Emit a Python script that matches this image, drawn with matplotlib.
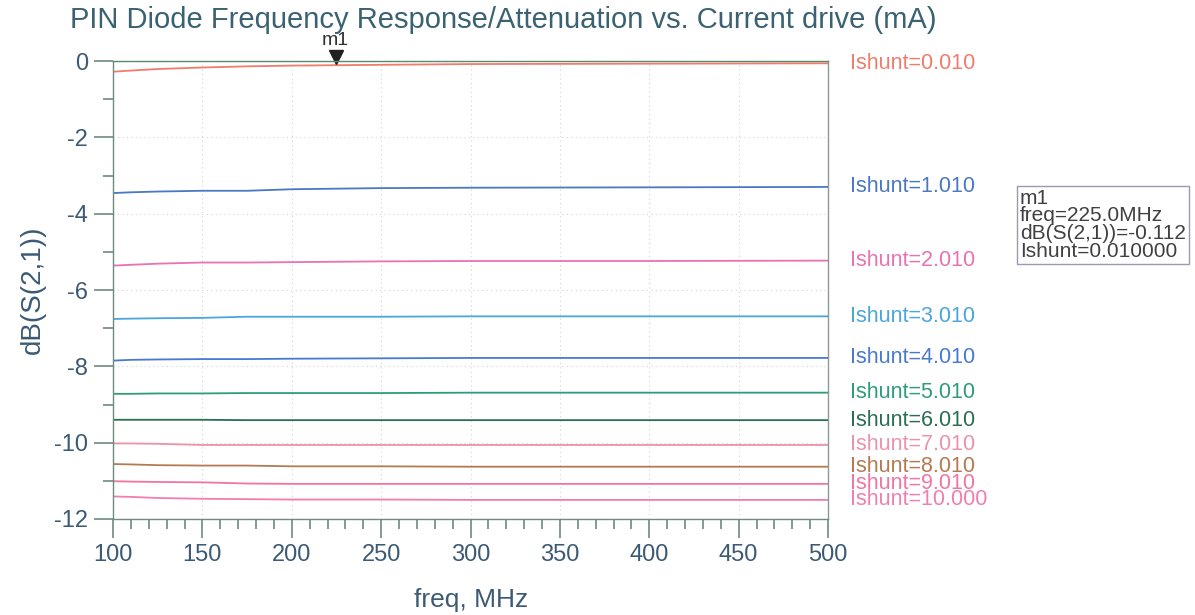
import matplotlib
matplotlib.use("Agg")
import matplotlib.pyplot as plt
import matplotlib.transforms as mtransforms
from matplotlib.ticker import MultipleLocator

plt.rcParams['font.family'] = ['Liberation Sans', 'DejaVu Sans']
plt.rcParams['axes.unicode_minus'] = False

# --- DATA ---
freq = [100, 110, 125, 150, 175, 200, 250, 300, 400, 500]

ishunt_labels = ["Ishunt=0.010", "Ishunt=1.010", "Ishunt=2.010", "Ishunt=3.010",
                 "Ishunt=4.010", "Ishunt=5.010", "Ishunt=6.010", "Ishunt=7.010",
                 "Ishunt=8.010", "Ishunt=9.010", "Ishunt=10.000"]

s21_0p010 = [-0.28, -0.25, -0.21, -0.17, -0.14, -0.12, -0.10, -0.08, -0.07, -0.06]
s21_1p010 = [-3.46, -3.44, -3.42, -3.40, -3.40, -3.36, -3.33, -3.32, -3.31, -3.30]
s21_2p010 = [-5.36, -5.34, -5.31, -5.28, -5.28, -5.27, -5.25, -5.24, -5.24, -5.23]
s21_3p010 = [-6.76, -6.75, -6.74, -6.73, -6.70, -6.70, -6.70, -6.69, -6.69, -6.69]
s21_4p010 = [-7.85, -7.83, -7.82, -7.81, -7.81, -7.80, -7.79, -7.78, -7.78, -7.78]
s21_5p010 = [-8.72, -8.72, -8.71, -8.71, -8.70, -8.70, -8.70, -8.69, -8.69, -8.69]
s21_6p010 = [-9.40, -9.40, -9.40, -9.40, -9.41, -9.41, -9.41, -9.41, -9.41, -9.41]
s21_7p010 = [-10.02, -10.02, -10.03, -10.06, -10.06, -10.06, -10.06, -10.06, -10.06, -10.06]
s21_8p010 = [-10.56, -10.57, -10.59, -10.60, -10.60, -10.62, -10.62, -10.63, -10.63, -10.63]
s21_9p010 = [-11.01, -11.02, -11.03, -11.04, -11.07, -11.08, -11.08, -11.08, -11.08, -11.08]
s21_10p000 = [-11.41, -11.42, -11.45, -11.47, -11.48, -11.49, -11.49, -11.50, -11.50, -11.50]

series = [s21_0p010, s21_1p010, s21_2p010, s21_3p010, s21_4p010, s21_5p010,
          s21_6p010, s21_7p010, s21_8p010, s21_9p010, s21_10p000]

colors = ["#f07c6c", "#4a78c4", "#e872b4", "#4aa6dc", "#4a7ad0", "#2e9c7c",
          "#2a6e52", "#ec92aa", "#b47a52", "#f274a2", "#f07eb0"]

# marker m1
m1_freq = 225.0
m1_val = -0.112
m1_ishunt = 0.010

# --- PLOT ---
fig = plt.figure(figsize=(11.95, 6.15), dpi=100)
ax = fig.add_axes([0.0946, 0.1561, 0.5983, 0.7447])

for vals, col in zip(series, colors):
    ax.plot(freq, vals, color=col, lw=1.3)

ax.set_xlim(100, 500)
ax.set_ylim(-12, 0)
ax.xaxis.set_major_locator(MultipleLocator(50))
ax.xaxis.set_minor_locator(MultipleLocator(10))
ax.yaxis.set_major_locator(MultipleLocator(2))
ax.yaxis.set_minor_locator(MultipleLocator(1))

axis_col = "#6e8a7e"
lab_col = "#3c5a74"
for sp in ax.spines.values():
    sp.set_color("#8a9a94")
    sp.set_linewidth(1.0)
ax.spines['left'].set_color(axis_col)
ax.spines['bottom'].set_color(axis_col)
ax.spines['top'].set_color("#5a8a6e")

ax.tick_params(axis='both', which='major', length=14, width=1.2, color=axis_col,
               labelsize=17, labelcolor=lab_col, pad=4)
ax.tick_params(axis='both', which='minor', length=7, width=1.2, color=axis_col)
ax.grid(True, which='major', color="#d4d4d4", linestyle=(0, (1, 3)), lw=0.8)

ax.set_ylabel("dB(S(2,1))", fontsize=20, color=lab_col, labelpad=6)
fig.text(0.394, 1 - 600 / 615, "freq, MHz", fontsize=19, color=lab_col,
         ha='center', va='center')
fig.text(0.0586, 0.967, "PIN Diode Frequency Response/Attenuation vs. Current drive (mA)",
         fontsize=21, color="#3a6272", va='center', ha='left')

# right-hand series labels at the end value of each curve
for vals, lab, col in zip(series, ishunt_labels, colors):
    ax.annotate(lab, xy=(1.0, vals[-1]), xycoords=('axes fraction', 'data'),
                xytext=(16, 0), textcoords='offset points', fontsize=15.5,
                color=col, va='center', ha='left', annotation_clip=False)

# marker m1: triangle sitting on the curve, label above
off = mtransforms.offset_copy(ax.transData, fig=fig, x=0, y=6, units='points')
ax.plot([m1_freq], [m1_val], marker='v', color='#202020', ms=10, transform=off,
        clip_on=False)
ax.annotate("m1", xy=(m1_freq, m1_val), xytext=(-1, 12), textcoords='offset points',
            fontsize=14, color='#303030', ha='center', va='bottom',
            annotation_clip=False)

# marker readout box
box_txt = "m1\nfreq=%.1fMHz\ndB(S(2,1))=%.3f\nIshunt=%.6f" % (m1_freq, m1_val, m1_ishunt)
fig.text(0.8535, 0.6345, box_txt, fontsize=15, color='#404040', va='center', ha='left',
         linespacing=0.92,
         bbox=dict(boxstyle='square,pad=0.14', fc='white', ec='#9a9ab0', lw=1.0))

fig.savefig("out.png", dpi=100)
